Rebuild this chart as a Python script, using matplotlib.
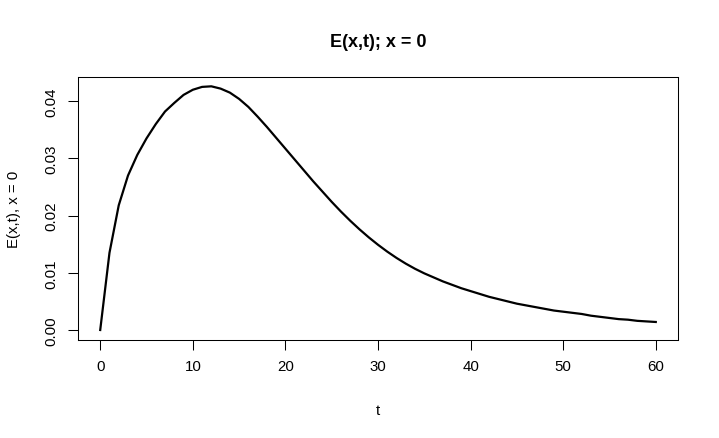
import matplotlib
matplotlib.use("Agg")
import matplotlib.pyplot as plt

t = list(range(0, 61))
E = [0.0000, 0.0135, 0.0218, 0.0270, 0.0306, 0.0335, 0.0360, 0.0382, 0.0397, 0.0411,
     0.0420, 0.0425, 0.0426, 0.0422, 0.0415, 0.0404, 0.0390, 0.0373, 0.0355, 0.0336,
     0.0317, 0.0298, 0.0279, 0.0260, 0.0242, 0.0224, 0.0207, 0.0191, 0.0176, 0.0162,
     0.0149, 0.0137, 0.0126, 0.0116, 0.0107, 0.0099, 0.0092, 0.0085, 0.0079, 0.0073,
     0.0068, 0.0063, 0.0058, 0.0054, 0.0050, 0.0046, 0.0043, 0.0040, 0.0037, 0.0034,
     0.0032, 0.0030, 0.0028, 0.0025, 0.0023, 0.0021, 0.0019, 0.0018, 0.0016, 0.0015,
     0.0014]
xticks = [0, 10, 20, 30, 40, 50, 60]
yticks = [0.00, 0.01, 0.02, 0.03, 0.04]
ytick_labels = ["0.00", "0.01", "0.02", "0.03", "0.04"]

plt.rcParams['font.family'] = ['Liberation Sans', 'DejaVu Sans']
W, H = 719, 439
fig = plt.figure(figsize=(W / 100, H / 100), dpi=100)
ax = fig.add_axes([78 / W, 1 - 341 / H, 600 / W, 263 / H])
ax.plot(t, E, color='black', lw=1.6, solid_joinstyle='round')
ax.set_xlim(-2.4, 62.4)
ax.set_ylim(-0.00175, 0.04423)
ax.set_xticks(xticks)
ax.set_xticklabels([str(v) for v in xticks])
ax.set_yticks(yticks)
ax.set_yticklabels(ytick_labels, rotation=90, va='center')
ax.tick_params(axis='both', direction='out', length=7, width=0.75, labelsize=10.8,
               colors='black', pad=7)
for s in ax.spines.values():
    s.set_linewidth(0.75)
    s.set_color('black')

fig.text(378 / W, 1 - 47.3 / H, "E(x,t); x = 0", ha='center', va='baseline',
         fontsize=13, fontweight='bold')
fig.text(378 / W, 1 - 415 / H, "t", ha='center', va='baseline', fontsize=10.8)
fig.text(14 / W, 1 - 209 / H, "E(x,t), x = 0", ha='center', va='center',
         rotation=90, fontsize=10.8)

fig.savefig("out.png", dpi=100)
